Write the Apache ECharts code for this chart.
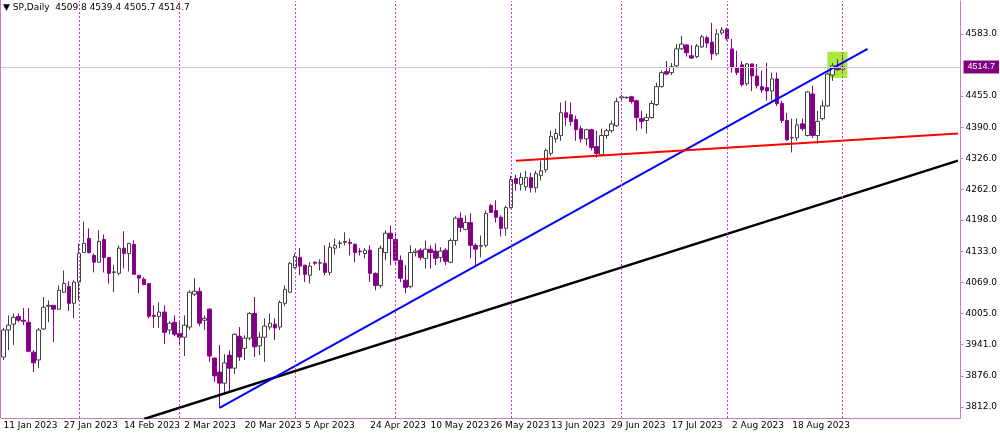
<!DOCTYPE html>
<html><head><meta charset="utf-8">
<script src="https://cdn.jsdelivr.net/npm/echarts@6/dist/echarts.min.js"></script>
<style>html,body{margin:0;padding:0;background:#fff}#c{width:1000px;height:434px}</style>
</head><body><div id="c"></div>
<script>
const monthDays = {
  Jan:[11,12,13,16,17,18,19,20,23,24,25,26,27,30,31],
  Feb:[1,2,3,6,7,8,9,10,13,14,15,16,17,20,21,22,23,24,27,28],
  Mar:[1,2,3,6,7,8,9,10,13,14,15,16,17,20,21,22,23,24,27,28,29,30,31],
  Apr:[3,4,5,6,7,10,11,12,13,14,17,18,19,20,21,24,25,26,27,28],
  May:[1,2,3,4,5,8,9,10,11,12,15,16,17,18,19,22,23,24,25,26,29,30,31],
  Jun:[1,2,5,6,7,8,9,12,13,14,15,16,19,20,21,22,23,26,27,28,29,30],
  Jul:[3,4,5,6,7,10,11,12,13,14,17,18,19,20,21,24,25,26,27,28,31],
  Aug:[1,2,3,4,7,8,9,10,11,14,15,16,17,18,21,22,23,24,25,28,29,30,31],
  Sep:[1,4,5,6,7,8,11,12,13,14,15,18,19,20,21,22,25,26,27,28,29],
  Oct:[2,3,4]
};
const categories = [];
for (const m in monthDays) for (const d of monthDays[m]) categories.push(d + ' ' + m + ' 2023');

const tickLabels = ['11 Jan 2023','27 Jan 2023','14 Feb 2023','2 Mar 2023','20 Mar 2023','5 Apr 2023','24 Apr 2023','10 May 2023','26 May 2023','13 Jun 2023','29 Jun 2023','17 Jul 2023','2 Aug 2023','18 Aug 2023'];
const separators = ['1 Feb 2023','1 Mar 2023','3 Apr 2023','1 May 2023','1 Jun 2023','3 Jul 2023','1 Aug 2023','1 Sep 2023'];
const priceLabels = [3812,3876,3941,4005,4069,4133,4198,4262,4326,4390,4455,4583];

// [open, close, low, high]
const ohlc = [
[3915,3971,3909,3975],[3971,3981,3929,4001],[3983,3997,3940,4005],[3999,3991,3987,4005],[3991,3989,3981,4016],
[3987,3927,3925,4016],[3925,3903,3884,3929],[3909,3971,3892,3975],[3973,4018,3971,4039],[4020,4022,3987,4032],
[4022,4014,3946,4022],[4014,4053,4012,4063],[4049,4067,4047,4094],[4061,4026,4010,4072],[4026,4070,3995,4074],
[4070,4129,4032,4150],[4131,4150,4131,4195],[4160,4131,4129,4181],[4125,4111,4090,4129],[4111,4154,4111,4177],
[4158,4121,4090,4168],[4121,4088,4067,4121],[4090,4091,4049,4105],[4088,4140,4084,4146],[4140,4129,4098,4175],
[4129,4150,4092,4150],[4148,4086,4086,4156],[4084,4078,4047,4084],[4076,4065,4063,4080],[4067,3999,3995,4067],
[4001,3999,3975,4022],[3999,4008,3975,4028],[4008,3966,3942,4022],[3971,3985,3962,3989],[3987,3962,3958,4001],
[3964,3956,3938,3987],[3956,3981,3917,4001],[3977,4049,3971,4053],[4045,4051,4041,4078],[4051,3985,3979,4059],
[3991,3995,3971,4001],[4014,3917,3905,4016],[3913,3876,3863,3913],[3884,3861,3810,3940],[3861,3903,3837,3921],
[3919,3892,3843,3929],[3892,3962,3880,3964],[3958,3915,3907,3977],[3933,3954,3909,3960],[3954,4005,3950,4008],
[4005,3936,3915,4039],[3938,3956,3919,3966],[3956,3979,3905,3995],[3977,3985,3971,4005],[3983,3975,3950,3995],
[3977,4028,3971,4032],[4026,4055,4020,4063],[4049,4109,4047,4111],[4100,4123,4098,4129],[4121,4103,4084,4140],
[4105,4086,4070,4105],[4084,4103,4067,4111],[4111,4109,4105,4113],[4109,4110,4094,4117],[4109,4090,4084,4146],
[4090,4142,4084,4152],[4140,4146,4127,4160],[4150,4151,4140,4156],[4152,4154,4146,4173],[4152,4150,4125,4160],
[4148,4131,4111,4150],[4134,4133,4125,4140],[4129,4136,4119,4140],[4136,4088,4070,4146],[4088,4063,4053,4090],
[4063,4140,4057,4146],[4131,4171,4115,4177],[4171,4160,4105,4187],[4158,4115,4105,4173],[4115,4078,4070,4125],
[4074,4059,4047,4105],[4061,4131,4057,4146],[4131,4134,4123,4140],[4136,4121,4115,4140],[4119,4138,4098,4156],
[4138,4131,4098,4146],[4134,4119,4105,4150],[4121,4134,4111,4142],[4136,4113,4105,4140],[4111,4156,4109,4160],
[4156,4202,4146,4206],[4202,4183,4173,4214],[4179,4193,4177,4208],[4193,4146,4119,4212],[4146,4138,4105,4150],
[4144,4146,4121,4166],[4146,4212,4142,4218],[4228,4214,4214,4232],[4218,4204,4193,4239],[4204,4181,4164,4208],
[4181,4224,4166,4228],[4224,4282,4222,4290],[4284,4274,4259,4292],[4272,4286,4259,4296],[4267,4286,4259,4300],
[4286,4265,4255,4296],[4265,4294,4255,4300],[4290,4300,4280,4321],[4302,4342,4296,4346],[4336,4371,4331,4383],
[4366,4377,4358,4387],[4373,4420,4362,4441],[4420,4410,4393,4445],[4416,4402,4393,4441],[4406,4385,4362,4414],
[4387,4366,4358,4393],[4366,4385,4352,4387],[4385,4348,4342,4387],[4350,4336,4327,4383],[4333,4373,4331,4387],
[4373,4383,4366,4387],[4383,4397,4379,4404],[4393,4443,4391,4451],[4451,4453,4445,4457],[4451,4452,4449,4453],
[4453,4443,4439,4455],[4445,4410,4383,4447],[4408,4402,4387,4424],[4404,4410,4377,4418],[4410,4439,4408,4445],
[4437,4474,4434,4482],[4474,4503,4472,4507],[4505,4500,4498,4527],[4503,4515,4498,4523],[4517,4552,4513,4562],
[4552,4562,4550,4579],[4560,4544,4536,4562],[4538,4533,4531,4560],[4536,4558,4533,4562],[4556,4577,4554,4581],
[4575,4564,4554,4579],[4566,4542,4529,4606],[4542,4583,4538,4593],[4585,4591,4581,4597],[4593,4573,4569,4595],
[4552,4513,4503,4573],[4513,4503,4498,4548],[4519,4478,4474,4527],[4480,4521,4476,4523],[4521,4496,4465,4521],
[4496,4476,4470,4521],[4474,4467,4461,4507],[4472,4465,4445,4523],[4465,4490,4445,4503],[4490,4439,4434,4503],
[4439,4404,4399,4445],[4404,4364,4362,4420],[4368,4369,4338,4408],[4368,4395,4362,4408],[4397,4387,4383,4408],
[4373,4463,4371,4465],[4459,4373,4368,4476],[4373,4402,4356,4424],[4408,4434,4404,4445],[4434,4500,4432,4503],
[4498,4517,4486,4523],[4513,4509,4507,4531],[4509.8,4514.7,4505.7,4539.4]
];
const blueLine = [[43,3810],[172,4552]];
const redLine = [[102,4321],[190,4377]];
const blackLine = [[28,3787],[190,4321]];
const lastPrice = 4514.7;
const highlightBox = [[164,4492],[168,4546]];

const chart = echarts.init(document.getElementById('c'));
chart.setOption({
  animation:false,
  grid:{left:1,right:37,top:1,bottom:16},
  graphic:[
    {type:'text',left:3,top:3,style:{text:'▼ SP,Daily  4509.8 4539.4 4505.7 4514.7',font:'9px "DejaVu Sans"',fill:'#000'}},
    {type:'line',shape:{x1:0.5,y1:0,x2:0.5,y2:418},style:{stroke:'#c080c0',lineWidth:1}}
  ],
  xAxis:{type:'category',data:categories,boundaryGap:true,
    axisLine:{lineStyle:{color:'#c080c0'}},
    axisTick:{interval:(i,v)=>tickLabels.includes(v),length:3,lineStyle:{color:'#c080c0'}},
    axisLabel:{interval:(i,v)=>tickLabels.includes(v),align:'left',margin:3,fontSize:9,color:'#000',fontFamily:'DejaVu Sans'},
    splitLine:{show:false}},
  yAxis:{type:'value',position:'right',min:3789,max:4651,scale:true,
    axisLine:{show:true,lineStyle:{color:'#c080c0'}},
    axisTick:{show:true,customValues:priceLabels,length:3,lineStyle:{color:'#c080c0'}},
    axisLabel:{customValues:priceLabels,formatter:v=>v.toFixed(1),fontSize:9,color:'#000',margin:5,fontFamily:'DejaVu Sans'},
    splitLine:{show:false}},
  series:[
    {type:'candlestick',data:ohlc,barWidth:4,
      itemStyle:{color:'#ffffff',color0:'#800080',borderColor:'#404040',borderColor0:'#900090',borderWidth:1},
      markArea:{silent:true,itemStyle:{color:'rgba(160,230,40,0.9)'},
        data:[[{xAxis:highlightBox[0][0],yAxis:highlightBox[0][1]},{xAxis:highlightBox[1][0],yAxis:highlightBox[1][1]}]]},
      markLine:{silent:true,symbol:'none',animation:false,
        data:[
          ...separators.map(s=>({xAxis:s,lineStyle:{color:'#c040c0',type:[2,2],width:1},label:{show:false}})),
          {yAxis:lastPrice,lineStyle:{color:'#c8c8c8',type:'solid',width:1},
            label:{show:true,position:'end',formatter:'4514.7',backgroundColor:'#800080',color:'#fff',fontSize:9,padding:[2,4],distance:3}}
        ]}
    },
    {type:'line',data:blackLine,symbol:'none',lineStyle:{color:'#000',width:2.5},z:3,clip:true},
    {type:'line',data:blueLine,symbol:'none',lineStyle:{color:'#0000ff',width:2},z:3,clip:true},
    {type:'line',data:redLine,symbol:'none',lineStyle:{color:'#ff0000',width:2},z:3,clip:true}
  ]
});
</script></body></html>
